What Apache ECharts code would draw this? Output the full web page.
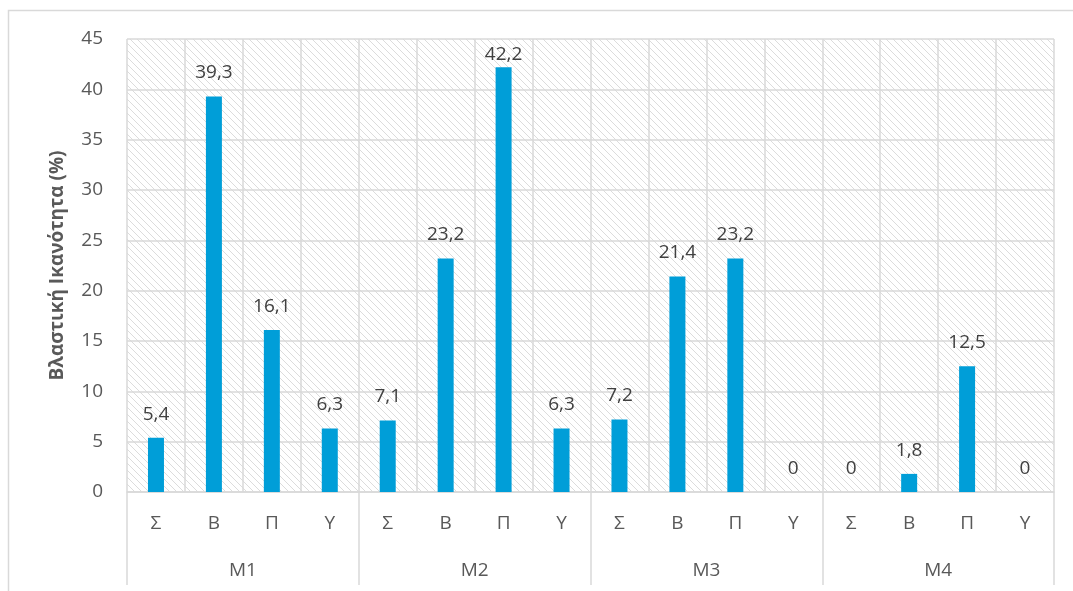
<!DOCTYPE html>
<html><head><meta charset="utf-8">
<script src="https://cdn.jsdelivr.net/npm/echarts@6/dist/echarts.min.js"></script>
<style>html,body{margin:0;padding:0;background:#fff}#c{width:1073px;height:591px}</style>
</head><body><div id="c"></div>
<script>
const subLabels = ['Σ','Β','Π','Υ','Σ','Β','Π','Υ','Σ','Β','Π','Υ','Σ','Β','Π','Υ'];
const groups = ['M1','M2','M3','M4'];
const values = [5.4, 39.3, 16.1, 6.3, 7.1, 23.2, 42.2, 6.3, 7.2, 21.4, 23.2, 0, 0, 1.8, 12.5, 0];
const yTicks = [0,5,10,15,20,25,30,35,40,45];

const cv = document.createElement('canvas');
cv.width = 7; cv.height = 7;
const cx = cv.getContext('2d');
cx.fillStyle = '#ffffff'; cx.fillRect(0,0,7,7);
cx.strokeStyle = '#dcdcdc'; cx.lineWidth = 1;
cx.beginPath();
cx.moveTo(-1,-1); cx.lineTo(8,8);
cx.moveTo(-8,-1); cx.lineTo(1,8);
cx.moveTo(6,-1); cx.lineTo(15,8);
cx.stroke();

// label of the tallest bar is kept inside the plot area (pushed down), as in the reference
const barData = values.map(function(v){
  return v > 41 ? {value:v, label:{distance:3}} : v;
});

const font = '"Open Sans", "Noto Sans", sans-serif';
const chart = echarts.init(document.getElementById('c'), null, {renderer:'canvas'});
chart.setOption({
  animation:false,
  textStyle:{fontFamily:font},
  graphic:[{type:'rect', shape:{x:8.5,y:10.5,width:1100,height:620}, style:{fill:'none',stroke:'#d9d9d9',lineWidth:1.5}, silent:true, z:-10}],
  grid:{left:127,right:19,top:39,bottom:99, show:true, backgroundColor:{image:cv, repeat:'repeat'}, borderWidth:0},
  xAxis:[{
    type:'category', data:subLabels, boundaryGap:true,
    axisLine:{show:true, lineStyle:{color:'#d9d9d9', width:1.5}},
    axisTick:{show:false},
    splitLine:{show:true, interval:0, lineStyle:{color:'#d9d9d9', width:1.5}},
    axisLabel:{interval:0, color:'#595959', fontSize:19, margin:22, fontFamily:font}
  },{
    type:'category', data:groups, position:'bottom', boundaryGap:true,
    axisLine:{show:false},
    axisTick:{show:true, interval:0, length:93, lineStyle:{color:'#d9d9d9', width:1.5}},
    axisLabel:{interval:0, color:'#595959', fontSize:19, margin:69, fontFamily:font}
  }],
  yAxis:{
    type:'value', min:0, max:45, interval:5,
    name:'Βλαστική Ικανότητα (%)', nameLocation:'middle', nameGap:60,
    nameTextStyle:{fontWeight:'bold', fontSize:19, color:'#595959', fontFamily:font},
    axisLine:{show:false}, axisTick:{show:false},
    axisLabel:{color:'#595959', fontSize:19, margin:24, fontFamily:font,
      formatter:function(v){return yTicks.indexOf(v)>=0 ? String(v) : '';}},
    splitLine:{lineStyle:{color:'#d9d9d9', width:1.5}}
  },
  series:[{
    type:'bar', data:barData, barWidth:16, xAxisIndex:0,
    itemStyle:{color:'#009ED8'},
    label:{show:true, position:'top', distance:14, color:'#404040', fontSize:19, fontFamily:font,
      formatter:function(p){return String(p.value).replace('.', ',');}}
  }]
});
</script></body></html>
